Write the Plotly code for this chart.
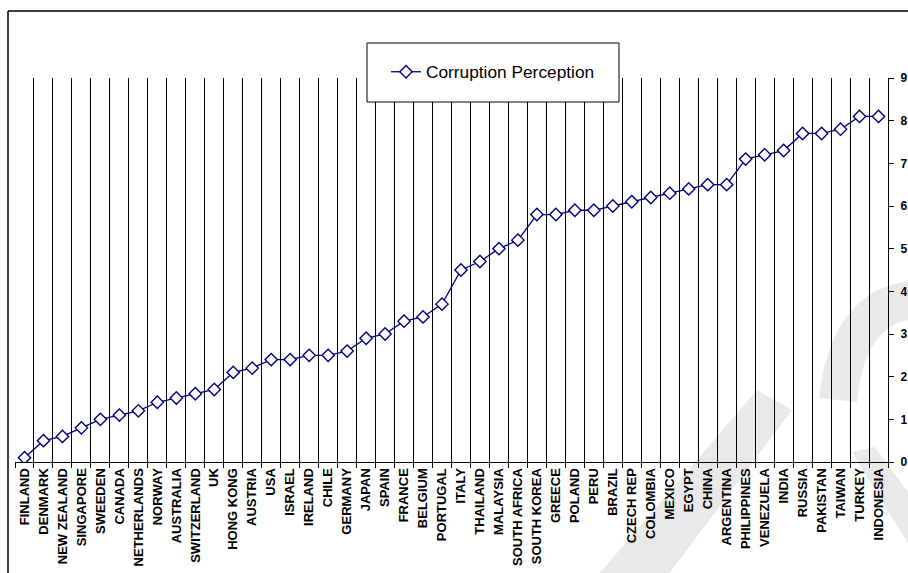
import plotly.graph_objects as go

countries = ["FINLAND", "DENMARK", "NEW ZEALAND", "SINGAPORE", "SWEEDEN", "CANADA",
             "NETHERLANDS", "NORWAY", "AUSTRALIA", "SWITZERLAND", "UK", "HONG KONG",
             "AUSTRIA", "USA", "ISRAEL", "IRELAND", "CHILE", "GERMANY", "JAPAN", "SPAIN",
             "FRANCE", "BELGIUM", "PORTUGAL", "ITALY", "THAILAND", "MALAYSIA",
             "SOUTH AFRICA", "SOUTH KOREA", "GREECE", "POLAND", "PERU", "BRAZIL",
             "CZECH REP", "COLOMBIA", "MEXICO", "EGYPT", "CHINA", "ARGENTINA",
             "PHILIPPINES", "VENEZUELA", "INDIA", "RUSSIA", "PAKISTAN", "TAIWAN",
             "TURKEY", "INDONESIA"]
corruption = [0.1, 0.5, 0.6, 0.8, 1.0, 1.1, 1.2, 1.4, 1.5, 1.6, 1.7, 2.1,
              2.2, 2.4, 2.4, 2.5, 2.5, 2.6, 2.9, 3.0, 3.3, 3.4, 3.7, 4.5,
              4.7, 5.0, 5.2, 5.8, 5.8, 5.9, 5.9, 6.0, 6.1, 6.2, 6.3, 6.4,
              6.5, 6.5, 7.1, 7.2, 7.3, 7.7, 7.7, 7.8, 8.1, 8.1]
y_ticks = [0, 1, 2, 3, 4, 5, 6, 7, 8, 9]

W, H = 908, 573
L, R, T, B = 15, 888, 78, 462  # plot area in pixels


def px(x):
    return (x - L) / (R - L)


def py(y):
    return (B - y) / (B - T)


NAVY = "#000080"
FONT = "Arial, Liberation Sans, sans-serif"

fig = go.Figure()
fig.add_trace(go.Scatter(
    x=countries, y=corruption, mode="lines+markers", name="Corruption Perception",
    line=dict(color=NAVY, width=1.3),
    marker=dict(symbol="diamond", size=9.5, color="white",
                line=dict(color=NAVY, width=1.4)),
))

shapes = []
wm = "#e9e9e9"


def poly(points):
    return "M " + " L ".join(f"{px(a):.4f},{py(b):.4f}" for a, b in points) + " Z"


# faint watermark (decoration)
shapes.append(dict(type="path", xref="paper", yref="paper", layer="below",
                   path=poly([(598, 575), (668, 575), (792, 410), (757, 390)]),
                   fillcolor=wm, line=dict(width=0)))
shapes.append(dict(type="path", xref="paper", yref="paper", layer="below",
                   path=f"M {px(838):.4f},{py(400):.4f} Q {px(848):.4f},{py(305):.4f} {px(915):.4f},{py(300):.4f}",
                   line=dict(color=wm, width=38)))
shapes.append(dict(type="path", xref="paper", yref="paper", layer="below",
                   path=poly([(852, 452), (875, 447), (910, 495), (910, 547)]),
                   fillcolor=wm, line=dict(width=0)))
# outer chart border (top and left visible)
shapes.append(dict(type="line", xref="paper", yref="paper", layer="above",
                   x0=px(8), x1=px(912), y0=py(11), y1=py(11),
                   line=dict(color="black", width=1.5)))
shapes.append(dict(type="line", xref="paper", yref="paper", layer="above",
                   x0=px(8), x1=px(8), y0=py(11), y1=py(580),
                   line=dict(color="black", width=1.5)))
# legend box
shapes.append(dict(type="rect", xref="paper", yref="paper", layer="above",
                   x0=px(367), x1=px(619), y0=py(43), y1=py(102),
                   fillcolor="white", line=dict(color="black", width=1)))

fig.update_layout(
    width=W, height=H,
    margin=dict(l=L, r=W - R, t=T, b=H - B, pad=0, autoexpand=False),
    paper_bgcolor="white", plot_bgcolor="rgba(0,0,0,0)",
    font=dict(family=FONT, color="black"),
    showlegend=True,
    legend=dict(x=px(386), y=py(72), xanchor="left", yanchor="middle",
                bgcolor="rgba(0,0,0,0)", borderwidth=0,
                font=dict(size=17.3, family=FONT, color="black")),
    shapes=shapes,
    xaxis=dict(
        type="category", categoryorder="array", categoryarray=countries,
        range=[-0.5, len(countries) - 0.5], automargin=False,
        tickson="boundaries", ticks="outside", ticklen=5, tickcolor="black",
        showgrid=True, gridcolor="black", gridwidth=1,
        showline=True, linecolor="black", linewidth=1,
        tickangle=-90, tickfont=dict(size=13, family=FONT, weight="bold"),
        zeroline=False, fixedrange=True,
    ),
    yaxis=dict(
        side="right", range=[0, 9], tickvals=y_ticks, automargin=False,
        ticktext=[str(v) for v in y_ticks],
        ticks="outside", ticklen=5, tickcolor="black", ticklabelstandoff=4,
        showgrid=False, zeroline=False,
        showline=True, linecolor="black", linewidth=1,
        tickfont=dict(size=12, family=FONT, weight="bold"),
        fixedrange=True,
    ),
)

fig.write_html("out.html")
